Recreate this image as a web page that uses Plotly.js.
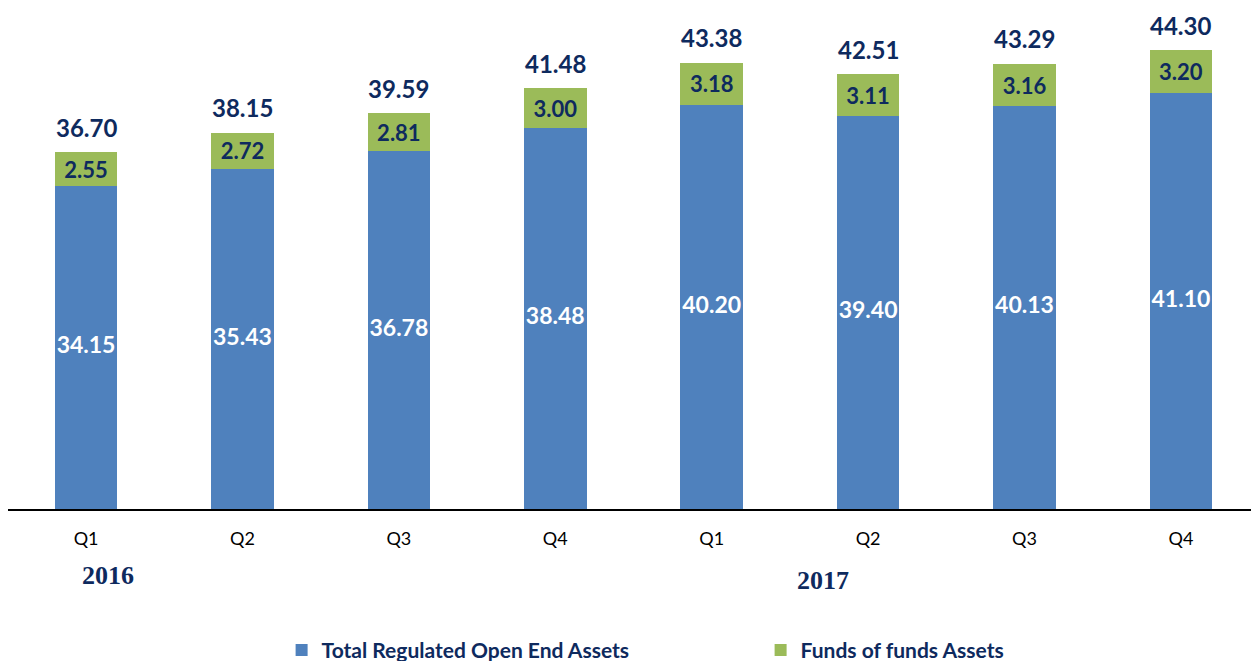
<!DOCTYPE html>
<html><head><meta charset="utf-8">
<script src="https://cdn.plot.ly/plotly-3.0.1.min.js"></script>
<style>html,body{margin:0;padding:0;background:#fff;}#chart{width:1251px;height:661px;}</style>
</head><body><div id="chart"></div>
<script>
const quarters = ["Q1","Q2","Q3","Q4","Q1","Q2","Q3","Q4"];
const years = ["2016","2017"];
const openEnd = [34.15,35.43,36.78,38.48,40.20,39.40,40.13,41.10];
const fundsOfFunds = [2.55,2.72,2.81,3.00,3.18,3.11,3.16,3.20];
const totals = [36.70,38.15,39.59,41.48,43.38,42.51,43.29,44.30];

const navy = "#0E2A5E";
const blue = "#4F81BD";
const green = "#9BBB59";
const yMin = 10;
const xs = quarters.map((q,i)=>i);
const fmt = v => v.toFixed(2);

const traces = [
  {type:"bar", name:"Total Regulated Open End Assets", x:xs, y:openEnd,
   marker:{color:blue}, width:0.4, hoverinfo:"skip"},
  {type:"bar", name:"Funds of funds Assets", x:xs, y:fundsOfFunds,
   marker:{color:green}, width:0.4, hoverinfo:"skip",
   text:fundsOfFunds.map(fmt), textposition:"inside", insidetextanchor:"middle",
   textangle:0, constraintext:"none",
   textfont:{family:"Lato", size:22, color:navy, weight:"bold"}},
  {type:"scatter", mode:"text", x:xs, y:openEnd.map(v=>(yMin+v)/2),
   text:openEnd.map(fmt), showlegend:false, hoverinfo:"skip", cliponaxis:false,
   textfont:{family:"Lato", size:23, color:"#ffffff", weight:"bold"}}
];

const annotations = totals.map((t,i)=>({
  x:i, y:t, xref:"x", yref:"y", text:"<b>"+fmt(t)+"</b>", showarrow:false,
  yanchor:"middle", yshift:25, font:{family:"Lato", size:24, color:navy}
}));
annotations.push({x:0.14, y:-0.134, xref:"x", yref:"paper", yanchor:"middle", text:"<b>"+years[0]+"</b>",
  showarrow:false, font:{family:"Liberation Serif", size:26, color:navy}});
annotations.push({x:4.71, y:-0.144, xref:"x", yref:"paper", yanchor:"middle", text:"<b>"+years[1]+"</b>",
  showarrow:false, font:{family:"Liberation Serif", size:26, color:navy}});

const layout = {
  width:1251, height:661,
  margin:{l:8, r:0, t:10, b:152},
  paper_bgcolor:"#fff", plot_bgcolor:"#fff",
  barmode:"stack",
  showlegend:true,
  legend:{orientation:"h", xref:"container", yref:"container", x:0.608, xanchor:"center",
    y:0.047, yanchor:"top",
    font:{family:"Lato", size:21, color:navy, weight:"bold"},
    entrywidth:434, entrywidthmode:"pixels", traceorder:"normal", itemclick:false},
  xaxis:{range:[-0.499,7.448], tickvals:xs, ticktext:quarters, showgrid:false, zeroline:false,
    showline:true, linecolor:"#000", linewidth:2, ticks:"", ticklabelstandoff:12,
    tickfont:{family:"Lato", size:18, color:"#000"}, fixedrange:true},
  yaxis:{range:[yMin, 47.32], visible:false, showgrid:false, zeroline:false, fixedrange:true},
  annotations:annotations
};
Plotly.newPlot("chart", traces, layout, {displayModeBar:false, staticPlot:true});
</script></body></html>
